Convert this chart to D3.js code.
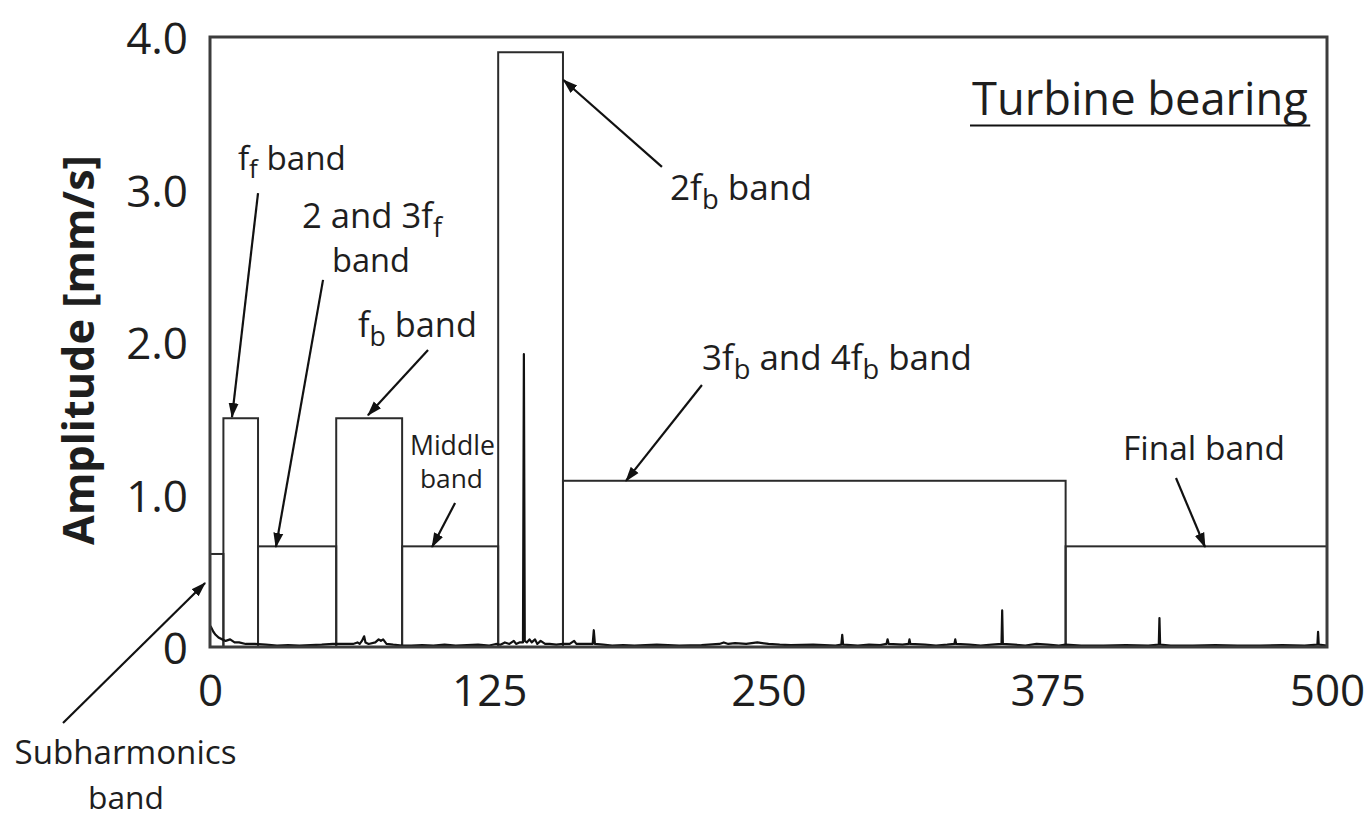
<!DOCTYPE html>
<html>
<head>
<meta charset="utf-8">
<script src="https://cdn.jsdelivr.net/npm/d3@7"></script>
<style>
  html, body { margin: 0; padding: 0; background: #fff; }
  svg { display: block; }
</style>
</head>
<body>
<svg id="chart" width="1369" height="817"></svg>
<script>
// ---------------- DATA ----------------
const xTicks = [0, 125, 250, 375, 500];
const xTickLabels = ["0", "125", "250", "375", "500"];
const yTicks = [0, 1, 2, 3, 4];
const yTickLabels = ["0", "1.0", "2.0", "3.0", "4.0"];

// frequency bands (Hz) and their alarm amplitudes (mm/s)
const bandNames = ["Subharmonics", "ff", "2 and 3ff", "fb", "Middle", "2fb", "3fb and 4fb", "Final"];
const bandStart = [0, 6, 21.5, 56.5, 86, 129, 158, 383];
const bandEnd   = [6, 21.5, 56.5, 86, 129, 158, 383, 500];
const bandAmp   = [0.61, 1.50, 0.66, 1.50, 0.66, 3.90, 1.09, 0.66];

// measured spectrum [Hz, mm/s]
const spectrum = [
  [0,0.14],[0.5,0.13],[1.5,0.10],[2.5,0.08],[4,0.06],[5.5,0.05],[7,0.04],[9,0.05],[11,0.03],[13,0.03],
  [16,0.02],[20,0.02],[25,0.015],[30,0.01],[35,0.012],[40,0.01],[45,0.012],[50,0.015],[55,0.02],[60,0.02],
  [64,0.02],[66,0.03],[67,0.02],[68,0.04],[69,0.07],[69.6,0.03],[71,0.02],[74,0.03],[75.5,0.05],[76.5,0.04],
  [77.5,0.05],[79,0.02],[82,0.015],[86,0.01],[90,0.01],[95,0.012],[100,0.01],[105,0.015],[110,0.01],[115,0.012],
  [120,0.015],[125,0.01],[128,0.02],[130,0.015],[132,0.03],[134,0.02],[136,0.04],[137,0.02],[138.5,0.03],
  [140.1,0.03],[140.5,1.92],[140.9,0.04],[141.8,0.03],[143,0.05],[144,0.03],[145.5,0.05],[146.5,0.02],[148,0.04],
  [150,0.02],[152,0.02],[155,0.015],[158,0.02],[161,0.02],[163,0.04],[164,0.02],[168,0.02],[171.3,0.02],
  [171.8,0.11],[172.3,0.02],[176,0.015],[180,0.01],[185,0.012],[190,0.01],[200,0.015],[210,0.01],[220,0.012],
  [228,0.02],[230,0.03],[232,0.02],[235,0.025],[240,0.02],[245,0.03],[250,0.02],[255,0.015],[260,0.012],
  [270,0.015],[280,0.01],[282.6,0.015],[283,0.08],[283.4,0.015],[290,0.01],[295,0.015],[300,0.012],
  [302.8,0.02],[303.3,0.05],[303.8,0.02],[310,0.015],[312.7,0.02],[313.1,0.05],[313.5,0.02],[320,0.015],
  [325,0.01],[330,0.015],[333.2,0.02],[333.6,0.05],[334,0.02],[340,0.015],[345,0.01],[350,0.015],
  [354.3,0.02],[354.6,0.24],[354.9,0.02],[360,0.015],[365,0.01],[370,0.02],[375,0.015],[380,0.01],
  [383,0.015],[390,0.01],[400,0.01],[410,0.012],[420,0.01],[424.7,0.015],[425,0.19],[425.3,0.015],
  [430,0.01],[440,0.01],[450,0.012],[460,0.01],[470,0.01],[480,0.012],[490,0.01],[495.7,0.015],
  [496,0.10],[496.3,0.015],[500,0.01]
];

// annotation texts: parts [text, isSubscript], left x (Hz), baseline y (mm/s), target width (px)
const labelParts = [
  [["f",0],["f",1],[" band",0]],
  [["2 and 3f",0],["f",1]],
  [["band",0]],
  [["f",0],["b",1],[" band",0]],
  [["Middle",0]],
  [["band",0]],
  [["2f",0],["b",1],[" band",0]],
  [["3f",0],["b",1],[" and 4f",0],["b",1],[" band",0]],
  [["Final band",0]],
  [["Turbine bearing",0]],
  [["Subharmonics",0]],
  [["band",0]]
];
const labelX = [12.5, 41.2, 54.6, 66.2, 89.5, 94, 205.9, 220.2, 408.7, 341.1, -87.5, -54.6];
const labelY = [3.128, 2.748, 2.459, 2.033, 1.259, 1.043, 2.931, 1.816, 1.226, 3.489, -0.768, -1.062];
const labelW = [108, 140, 78, 119, 85, 63, 142, 270, 162, 336, 222, 76];

// arrows: start (Hz, mm/s) -> end (Hz, mm/s)
const arrowX1 = [21.5, 50.6, 97.6, 109.7, 202.3, 220.2, 432.4, -65.8];
const arrowY1 = [2.977, 2.407, 1.948, 0.944, 3.148, 1.718, 1.108, -0.498];
const arrowX2 = [9.85, 29.5, 70.7, 99.4, 158.2, 186.2, 445.4, -2.2];
const arrowY2 = [1.508, 0.656, 1.52, 0.656, 3.718, 1.089, 0.656, 0.42];

// ---------------- CHART ----------------
const svg = d3.select("#chart");
const FONT = "'Open Sans', 'Noto Sans', 'DejaVu Sans', sans-serif";
const INK = "#1e1e1e";

const x = d3.scaleLinear().domain([0, 500]).range([210, 1327]);
const y = d3.scaleLinear().domain([0, 4]).range([647, 37]);

// bands
svg.append("g").selectAll("rect").data(bandNames).join("rect")
  .attr("x", (d, i) => x(bandStart[i]))
  .attr("y", (d, i) => y(bandAmp[i]))
  .attr("width", (d, i) => x(bandEnd[i]) - x(bandStart[i]))
  .attr("height", (d, i) => y(0) - y(bandAmp[i]))
  .attr("fill", "none")
  .attr("stroke", "#2b2b2b")
  .attr("stroke-width", 2);

// spectrum
svg.append("path")
  .datum(spectrum)
  .attr("fill", "none")
  .attr("stroke", "#111")
  .attr("stroke-width", 2.2)
  .attr("stroke-linejoin", "round")
  .attr("d", d3.line().x(d => x(d[0])).y(d => y(d[1])));

// frame
svg.append("rect")
  .attr("x", x(0)).attr("y", y(4))
  .attr("width", x(500) - x(0)).attr("height", y(0) - y(4))
  .attr("fill", "none").attr("stroke", "#3c3c3c").attr("stroke-width", 3);

// axes
const xAxis = svg.append("g").attr("transform", `translate(0,${y(0)})`)
  .call(d3.axisBottom(x).tickValues(xTicks).tickSize(0).tickPadding(28)
    .tickFormat((d, i) => xTickLabels[i]));
const yAxis = svg.append("g").attr("transform", `translate(${x(0)},0)`)
  .call(d3.axisLeft(y).tickValues(yTicks).tickSize(0).tickPadding(22)
    .tickFormat((d, i) => yTickLabels[i]));
[xAxis, yAxis].forEach(g => {
  g.select(".domain").remove();
  g.selectAll("line").remove();
  g.selectAll("text").attr("font-family", FONT).attr("font-size", 44).attr("fill", INK);
});
yAxis.selectAll("text").attr("dy", "0.38em");

// y axis title
const title = svg.append("text")
  .attr("transform", `translate(94,350) rotate(-90)`)
  .attr("text-anchor", "middle")
  .attr("font-family", FONT).attr("font-weight", 700)
  .attr("fill", INK)
  .text("Amplitude [mm/s]");
title.attr("font-size", 40);
title.attr("font-size", 40 * 390 / title.node().getComputedTextLength());

// arrow marker
svg.append("defs").append("marker")
  .attr("id", "ah").attr("viewBox", "0 -6 15 12")
  .attr("refX", 14).attr("refY", 0)
  .attr("markerWidth", 15).attr("markerHeight", 12)
  .attr("markerUnits", "userSpaceOnUse").attr("orient", "auto")
  .append("path").attr("d", "M0,-5L15,0L0,5Z").attr("fill", "#111");

svg.append("g").attr("class", "arrows").selectAll("line").data(arrowX1).join("line")
  .attr("x1", (d, i) => x(arrowX1[i])).attr("y1", (d, i) => y(arrowY1[i]))
  .attr("x2", (d, i) => x(arrowX2[i])).attr("y2", (d, i) => y(arrowY2[i]))
  .attr("stroke", "#111").attr("stroke-width", 2.2)
  .attr("marker-end", "url(#ah)");

// annotation labels
labelParts.forEach((parts, i) => {
  const t = svg.append("text")
    .attr("x", x(labelX[i])).attr("y", y(labelY[i]))
    .attr("font-family", FONT).attr("fill", INK).attr("font-size", 30);
  let prevSub = false;
  parts.forEach(([s, sub]) => {
    const ts = t.append("tspan").text(s);
    if (sub) {
      ts.attr("font-size", "78%").attr("dy", "0.32em");
    } else if (prevSub) {
      ts.attr("dy", "-0.25em");
    }
    prevSub = !!sub;
  });
  const len = t.node().getComputedTextLength();
  t.attr("font-size", 30 * labelW[i] / len);
});

// underline of "Turbine bearing"
svg.append("line")
  .attr("x1", x(340.2)).attr("x2", x(492.5))
  .attr("y1", y(3.42)).attr("y2", y(3.42))
  .attr("stroke", "#111").attr("stroke-width", 2);
</script>
</body>
</html>
